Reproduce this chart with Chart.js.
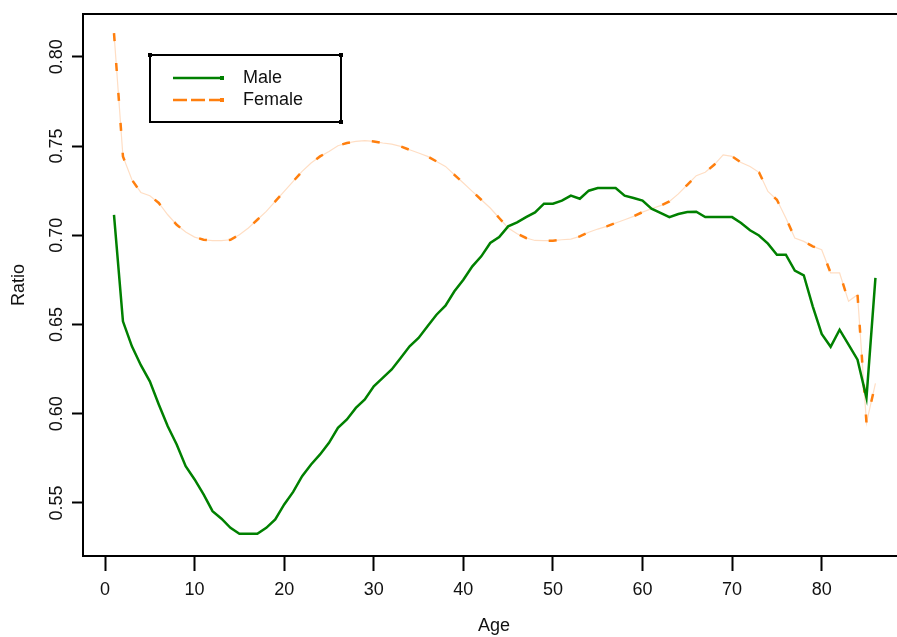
<!DOCTYPE html>
<html>
<head>
<meta charset="utf-8">
<script src="https://cdn.jsdelivr.net/npm/chart.js@4"></script>
<style>
  html, body { margin: 0; padding: 0; background: #fff; overflow: hidden; }
  #wrap { width: 910px; height: 637px; }
</style>
</head>
<body>
<div id="wrap"><canvas id="js-ratioChart" width="910" height="637"></canvas></div>
<script>
// ages on the x axis
const ages = [1,2,3,4,5,6,7,8,9,10,11,12,13,14,15,16,17,18,19,20,
  21,22,23,24,25,26,27,28,29,30,31,32,33,34,35,36,37,38,39,40,
  41,42,43,44,45,46,47,48,49,50,51,52,53,54,55,56,57,58,59,60,
  61,62,63,64,65,66,67,68,69,70,71,72,73,74,75,76,77,78,79,80,
  81,82,83,84,85,86];

const male = [0.7115,0.6518,0.6378,0.6272,0.6182,0.6052,0.593,0.5828,0.5706,0.5632,
  0.5548,0.5454,0.5412,0.5361,0.5328,0.5328,0.5328,0.5361,0.5408,0.5492,
  0.5562,0.565,0.5716,0.5772,0.5837,0.5921,0.5968,0.6033,0.608,0.6154,
  0.6201,0.6248,0.6313,0.6378,0.6425,0.649,0.6555,0.6606,0.6686,0.6751,
  0.6826,0.6882,0.6957,0.699,0.705,0.7072,0.7102,0.7128,0.7177,0.7177,
  0.7194,0.7222,0.7205,0.725,0.7265,0.7265,0.7265,0.7222,0.7209,0.7194,
  0.7149,0.7125,0.7102,0.7119,0.713,0.7132,0.7102,0.7102,0.7102,0.7102,
  0.7069,0.7028,0.6999,0.6953,0.6891,0.6891,0.6802,0.6776,0.6602,0.6447,
  0.6375,0.6471,0.6387,0.6303,0.6089,0.6761];

const female = [0.8133,0.7442,0.7311,0.724,0.7222,0.7181,0.7115,0.7059,0.7018,0.699,
  0.6975,0.697,0.697,0.6975,0.7003,0.7041,0.7087,0.7134,0.719,0.7246,
  0.7302,0.7358,0.7405,0.7442,0.747,0.7502,0.7517,0.7526,0.7531,0.7526,
  0.7517,0.7511,0.7498,0.7479,0.7461,0.7442,0.7414,0.7386,0.7339,0.7293,
  0.7246,0.7199,0.7153,0.7097,0.7041,0.7009,0.6985,0.6971,0.697,0.697,
  0.6975,0.6979,0.6994,0.7017,0.7035,0.705,0.7069,0.7087,0.7106,0.713,
  0.7149,0.7166,0.719,0.7232,0.7283,0.7334,0.7353,0.7395,0.7451,0.7442,
  0.7408,0.7386,0.7353,0.7246,0.7199,0.7097,0.6985,0.6966,0.6938,0.6919,
  0.6789,0.6789,0.663,0.6667,0.5949,0.617];

const xTicks = [0,10,20,30,40,50,60,70,80];
const yTicks = [0.55,0.60,0.65,0.70,0.75,0.80];

const green = "rgb(0,128,0)";
const orange = "rgb(255,127,14)";
const peach = "rgb(255,222,196)";
const font = "Liberation Sans";

function toPoints(values){
    var pts = [];
    for (var i = 0; i < ages.length; i++){
        pts.push({x: ages[i], y: values[i]});
    }
    return pts;
}

// plain black frame around the plot region
const framePlugin = {
    id: "frame",
    afterDraw(chart){
        const a = chart.chartArea;
        const ctx = chart.ctx;
        ctx.save();
        ctx.strokeStyle = "#000";
        ctx.lineWidth = 2;
        ctx.strokeRect(a.left, a.top, a.right - a.left, a.bottom - a.top);
        ctx.restore();
    }
};

// legend box in the top left corner of the plot
const legendBoxPlugin = {
    id: "legendBox",
    afterDraw(chart){
        const ctx = chart.ctx;
        const items = chart.data.datasets.filter(d => d.label);
        ctx.save();
        ctx.strokeStyle = "#000";
        ctx.lineWidth = 2;
        ctx.strokeRect(150, 55, 191, 67);
        ctx.fillStyle = "#000";
        [[150,55],[341,55],[341,122]].forEach(p => ctx.fillRect(p[0]-2, p[1]-2, 4, 4));
        items.forEach((d, i) => {
            const y = 78 + i * 22;
            ctx.strokeStyle = d.borderColor;
            ctx.lineWidth = 2.5;
            ctx.setLineDash(d.legendDash || []);
            ctx.beginPath();
            ctx.moveTo(173, y);
            ctx.lineTo(222, y);
            ctx.stroke();
            ctx.setLineDash([]);
            ctx.fillStyle = d.borderColor;
            ctx.fillRect(220, y - 2, 4, 4);
            ctx.fillStyle = "#111";
            ctx.font = "18px '" + font + "'";
            ctx.textBaseline = "middle";
            ctx.fillText(d.label, 243, y);
        });
        ctx.restore();
    }
};

const ctx = document.getElementById("js-ratioChart");
const ratioChart = new Chart(ctx, {
    type: "line",
    data: {
        datasets: [
            {
                label: "",
                data: toPoints(female),
                borderColor: peach,
                borderWidth: 1.2,
                pointRadius: 0,
                tension: 0,
                order: 3
            },
            {
                label: "Male",
                data: toPoints(male),
                borderColor: green,
                borderWidth: 2.5,
                pointRadius: 0,
                tension: 0,
                order: 1
            },
            {
                label: "Female",
                data: toPoints(female),
                borderColor: orange,
                borderWidth: 2.5,
                borderDash: [8, 22],
                legendDash: [14, 4],
                pointRadius: 0,
                tension: 0,
                order: 2
            }
        ]
    },
    options: {
        responsive: false,
        animation: false,
        layout: { padding: { top: 14, right: 5, left: 0, bottom: 0 } },
        plugins: {
            legend: { display: false },
            tooltip: { enabled: false }
        },
        scales: {
            x: {
                type: "linear",
                min: -2.46,
                max: 89.3,
                afterFit: (s) => { s.height = 81; },
                afterBuildTicks: (s) => { s.ticks = xTicks.map(v => ({value: v})); },
                border: { display: false },
                grid: {
                    drawOnChartArea: false,
                    tickLength: 15,
                    tickWidth: 2,
                    tickColor: "#000"
                },
                ticks: {
                    color: "#111",
                    padding: 8,
                    maxRotation: 0,
                    font: { family: font, size: 18 }
                },
                title: {
                    display: true,
                    text: "Age",
                    color: "#111",
                    padding: { top: 0, bottom: 0 },
                    font: { family: font, size: 18 }
                }
            },
            y: {
                type: "linear",
                min: 0.5203,
                max: 0.824,
                afterFit: (s) => { s.width = 83; },
                afterBuildTicks: (s) => { s.ticks = yTicks.map(v => ({value: v})); },
                border: { display: false },
                grid: {
                    drawOnChartArea: false,
                    tickLength: 11,
                    tickWidth: 2,
                    tickColor: "#000"
                },
                ticks: {
                    color: "#111",
                    padding: -3,
                    minRotation: 90,
                    maxRotation: 90,
                    crossAlign: "center",
                    font: { family: font, size: 18 },
                    callback: function(value){
                        return value.toFixed(2);
                    }
                },
                title: {
                    display: true,
                    text: "Ratio",
                    color: "#111",
                    padding: { top: 8, bottom: 0 },
                    font: { family: font, size: 18 }
                }
            }
        }
    },
    plugins: [framePlugin, legendBoxPlugin]
});
</script>
</body>
</html>
